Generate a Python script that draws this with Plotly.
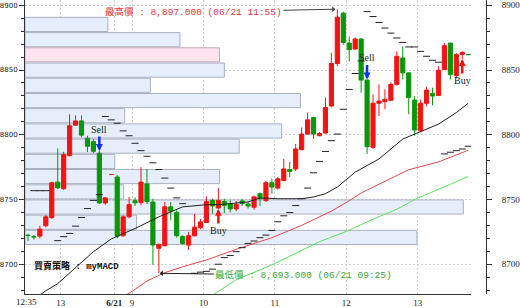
import plotly.graph_objects as go

# ---------------- data (5-minute bars: prev day 12:35-13:45, then 06/21 08:50-13:45) ----------------
opens = [8722.4, 8721.3, 8721.7, 8729.7, 8736.1, 8763.4, 8758.3, 8783.9, 8807.4, 8810.7,
         8797.2, 8794.6, 8785.7, 8747.3, 8769.3, 8767.3, 8722.0, 8736.6, 8749.0, 8747.6,
         8762.0, 8748.0, 8712.3, 8714.3, 8744.3, 8739.9, 8721.3, 8714.8, 8722.0, 8728.1,
         8732.2, 8749.3, 8743.4, 8748.5, 8746.6, 8742.7, 8748.9, 8746.5, 8744.0, 8754.5,
         8749.3, 8762.9, 8758.8, 8764.7, 8773.1, 8773.6, 8788.5, 8800.5, 8813.3, 8799.2,
         8801.3, 8822.2, 8855.0, 8893.9, 8870.8, 8866.2, 8873.9, 8842.2, 8790.3, 8824.3,
         8825.6, 8826.6, 8838.9, 8859.3, 8847.8, 8826.8, 8803.0, 8824.3, 8832.0, 8830.4,
         8850.4, 8870.8, 8845.8, 8862.0, 8862.0]
highs = [8723.5, 8722.6, 8729.7, 8737.8, 8763.7, 8789.5, 8786.9, 8815.8, 8815.0, 8815.0,
         8799.2, 8796.5, 8787.5, 8752.0, 8769.3, 8769.0, 8737.8, 8751.9, 8751.5, 8775.0,
         8773.5, 8750.6, 8716.0, 8748.1, 8748.0, 8741.7, 8722.5, 8725.0, 8739.0, 8735.0,
         8752.4, 8750.6, 8759.0, 8750.5, 8749.3, 8748.8, 8750.5, 8748.0, 8753.0, 8755.5,
         8764.5, 8766.0, 8767.5, 8781.3, 8779.0, 8792.8, 8805.6, 8817.1, 8814.0, 8802.0,
         8828.7, 8863.2, 8897.0, 8895.0, 8875.9, 8875.0, 8874.7, 8842.7, 8831.2, 8838.9,
         8835.0, 8840.5, 8864.4, 8868.2, 8848.0, 8829.9, 8827.3, 8837.1, 8836.3, 8852.9,
         8870.8, 8870.8, 8863.0, 8864.5, 8862.0]
lows = [8718.0, 8719.0, 8719.9, 8728.6, 8735.0, 8758.0, 8757.5, 8783.3, 8807.0, 8798.0,
        8786.7, 8786.0, 8746.5, 8746.0, 8769.3, 8720.0, 8721.3, 8735.5, 8745.0, 8745.5,
        8746.5, 8699.5, 8693.0, 8713.8, 8733.8, 8720.5, 8715.0, 8711.0, 8721.5, 8727.0,
        8731.8, 8738.8, 8742.7, 8739.5, 8740.0, 8741.0, 8745.0, 8743.0, 8742.0, 8745.0,
        8748.0, 8754.5, 8757.5, 8764.0, 8767.3, 8772.0, 8788.0, 8800.0, 8796.7, 8799.0,
        8801.0, 8821.2, 8853.0, 8869.5, 8856.7, 8865.5, 8832.5, 8785.2, 8789.0, 8814.5,
        8819.7, 8826.0, 8838.0, 8842.7, 8815.8, 8799.2, 8802.0, 8822.0, 8822.7, 8830.0,
        8850.0, 8842.7, 8844.0, 8858.5, 8862.0]
closes = [8722.2, 8721.1, 8727.1, 8736.6, 8762.9, 8759.0, 8784.6, 8806.9, 8810.7, 8799.7,
          8791.1, 8787.2, 8747.3, 8751.2, 8769.3, 8721.7, 8736.6, 8746.0, 8747.5, 8763.4,
          8748.5, 8714.8, 8715.3, 8744.3, 8741.0, 8722.0, 8716.1, 8722.0, 8728.6, 8732.7,
          8748.5, 8745.0, 8749.3, 8745.4, 8742.7, 8746.2, 8746.8, 8745.0, 8752.0, 8750.6,
          8762.9, 8759.6, 8766.0, 8773.6, 8771.6, 8789.0, 8800.5, 8811.5, 8800.5, 8801.0,
          8821.0, 8855.0, 8890.8, 8871.3, 8865.7, 8873.9, 8842.2, 8790.8, 8824.3, 8826.0,
          8827.4, 8838.9, 8860.6, 8847.8, 8828.7, 8803.6, 8824.3, 8834.5, 8829.9, 8849.8,
          8868.8, 8846.5, 8861.9, 8863.6, 8861.9]

# parabolic SAR dots (None = not visible)
sar = [None, 8756.8, 8756.8, 8756.8, None, 8718.2, 8721.3, 8723.8, 8729.4, 8736.1,
       8743.0, 8749.3, 8753.7, 8814.1, 8811.5, 8808.9, 8803.0, 8799.2, 8793.4, 8787.7,
       8783.4, 8778.3, 8773.1, 8766.5, 8758.8, 8751.2, 8746.8, None, 8693.0, 8693.9,
       8694.5, 8696.2, 8700.0, 8705.1, 8706.7, 8709.7, 8712.8, 8716.1, 8717.9, 8720.5,
       8722.5, 8726.1, 8732.8, 8737.4, 8739.9, 8745.3, 8750.6, 8758.8, 8770.6, 8779.4,
       8787.1, 8795.4, 8800.5, 8819.7, 8835.0, 8847.3, 8857.0, 8895.1, 8891.3, 8886.7,
       8882.4, 8878.5, 8874.7, 8871.3, 8867.8, 8867.8, 8864.4, 8860.6, 8857.5, 8856.0,
       8785.2, 8786.5, 8787.7, 8789.0, 8791.1]

# moving averages (bar index, value)
ma_black_idx = [1, 3, 5, 8, 11, 14, 18, 22, 26, 30, 32, 37, 39, 42, 46, 48, 50, 52, 54, 55, 59, 61, 63, 65, 69, 72, 74]
ma_black = [8673, 8679.5, 8685, 8697, 8709.7, 8719.5, 8727.6, 8736.6, 8744.3, 8746, 8746, 8748.1, 8751.2, 8750.6,
            8750.6, 8751.9, 8754.5, 8759.6, 8767.3, 8771.1, 8781.3, 8789, 8796.7, 8800.5, 8808.2, 8817.1, 8824.3]
ma_red_idx = [16, 17.5, 20, 23, 26, 30, 35, 41, 46, 51, 54, 56, 64, 69, 74]
ma_red = [8675, 8679, 8687, 8693.5, 8698, 8703.3, 8711.5, 8720.5, 8730, 8741, 8749, 8755, 8773, 8779, 8788]
ma_green_idx = [30, 35, 41, 44, 49, 54, 58, 62, 65, 74]
ma_green = [8673, 8688, 8699.5, 8706, 8717.4, 8726.3, 8734.8, 8742.4, 8750, 8767.7]

# volume-by-price profile
band_prices = [8885.2, 8873.4, 8861.7, 8849.9, 8838.2, 8826.4, 8814.7, 8802.9,
               8791.2, 8779.4, 8767.7, 8755.9, 8744.2, 8732.4, 8720.7]
band_volumes = [84, 157, 197, 202, 127, 279, 101, 260, 217, 91, 197, 100, 444, 113, 397]
band_step = 11.75

sell_idx = [12, 57]
buy_idx = [32, 73]

tick_pos = [5.5, 14.5, 17.5, 29.5, 41.5, 53.5, 65.5]
tick_text = ['13', '<b>6/21</b>', '9', '10', '11', '12', '13']
y_ticks = [8700, 8750, 8800, 8850, 8900]

# bar time labels
bar_times = []
for j in range(len(opens)):
    if j < 15:
        m = 12 * 60 + 35 + 5 * j
        bar_times.append(('06/20', m))
    else:
        m = 8 * 60 + 50 + 5 * (j - 15)
        bar_times.append(('06/21', m))

def tlabel(j):
    d, m = bar_times[j]
    return f"{d} {m // 60:02d}:{m % 60:02d}"

RED = '#f01414'
GREEN = '#0a960a'
n = len(opens)
idx = list(range(n))

fig = go.Figure()

# profile bars (on base axes, under everything else)
cur = closes[-1]
fills = ['#fde3ef' if abs(p - cur) <= band_step / 2 else '#e6eefb' for p in band_prices]
lines = ['#bfa9b8' if abs(p - cur) <= band_step / 2 else '#a9b0c2' for p in band_prices]
fig.add_trace(go.Bar(x=band_volumes, y=band_prices, orientation='h', width=band_step * 0.93,
                     marker=dict(color=fills, line=dict(color=lines, width=1)),
                     xaxis='x', yaxis='y', hoverinfo='skip'))

# moving averages
for xs, ys, col in [(ma_green_idx, ma_green, '#5ee05e'), (ma_red_idx, ma_red, '#e84848'),
                    (ma_black_idx, ma_black, '#222222')]:
    fig.add_trace(go.Scatter(x=xs, y=ys, mode='lines', line=dict(color=col, width=1),
                             xaxis='x2', yaxis='y', hoverinfo='skip'))

# SAR
fig.add_trace(go.Scatter(x=idx, y=sar, mode='markers',
                         marker=dict(symbol='line-ew', size=5, line=dict(width=1, color='#222222')),
                         xaxis='x2', yaxis='y', hoverinfo='skip'))

# candles
up = [i for i in idx if closes[i] >= opens[i]]
dn = [i for i in idx if closes[i] < opens[i]]
for sel, col in [(up, RED), (dn, GREEN)]:
    fig.add_trace(go.Candlestick(
        x=sel, open=[opens[i] for i in sel], high=[highs[i] for i in sel],
        low=[lows[i] for i in sel], close=[closes[i] for i in sel],
        increasing=dict(line=dict(color=col, width=1), fillcolor=col),
        decreasing=dict(line=dict(color=col, width=1), fillcolor=col),
        xaxis='x2', yaxis='y', hoverinfo='skip'))

# dummy trace for right axis
fig.add_trace(go.Scatter(x=[0], y=[8800], mode='markers', marker=dict(opacity=0),
                         xaxis='x2', yaxis='y2', hoverinfo='skip'))

ann = []
# highest / lowest
hi_j = max(idx, key=lambda i: highs[i])
lo_j = min(idx, key=lambda i: lows[i])
ann.append(dict(x=hi_j, y=highs[hi_j], xref='x2', yref='y',
                text=f"最高價 : {highs[hi_j]:,.3f} ({tlabel(hi_j)})",
                font=dict(family='Liberation Mono, Noto Sans CJK TC', size=9.5, color='#e4343c'),
                showarrow=True, ax=-144, ay=3, arrowhead=1, arrowsize=1, arrowwidth=1,
                arrowcolor='#404040', standoff=2))
ann.append(dict(x=lo_j, y=lows[lo_j], xref='x2', yref='y',
                text=f"最低價 : {lows[lo_j]:,.3f} ({tlabel(lo_j)})",
                font=dict(family='Liberation Mono, Noto Sans CJK TC', size=9.5, color='#3aa83a'),
                showarrow=True, ax=145, ay=2, arrowhead=1, arrowsize=1, arrowwidth=1,
                arrowcolor='#202020', standoff=1))
# sell / buy signals
for j in sell_idx:
    ann.append(dict(x=j, y=highs[j], xref='x2', yref='y', text='', showarrow=True,
                    ax=0, ay=-16, arrowhead=2, arrowsize=0.55, arrowwidth=2.5, arrowcolor='#1030e8'))
    ann.append(dict(x=j, y=highs[j], xref='x2', yref='y', text='Sell', showarrow=False,
                    yanchor='bottom', yshift=14, font=dict(family='Liberation Serif', size=10, color='#202020')))
for j in buy_idx:
    ann.append(dict(x=j, y=lows[j], xref='x2', yref='y', text='', showarrow=True,
                    ax=0, ay=16, arrowhead=2, arrowsize=0.55, arrowwidth=2.5, arrowcolor='#f01414'))
    ann.append(dict(x=j, y=lows[j], xref='x2', yref='y', text='Buy', showarrow=False,
                    yanchor='top', yshift=-14, font=dict(family='Liberation Serif', size=10, color='#202020')))
# strategy label
ann.append(dict(x=0.015, y=0.095, xref='paper', yref='paper', xanchor='left', yanchor='middle',
                text='<b>買賣策略 : myMACD</b>', showarrow=False,
                font=dict(family='Liberation Mono, Noto Sans CJK TC', size=9, color='#111111')))
# first time label
ann.append(dict(x=-0.2, y=0, xref='x2', yref='paper', xanchor='center', yanchor='top', yshift=-1,
                text='12:35', showarrow=False,
                font=dict(family='Liberation Serif', size=9, color='#222222')))

yr = [8677.0, 8904.07]
fig.update_layout(
    width=520, height=308, margin=dict(l=21, r=32, t=0, b=12),
    paper_bgcolor='white', plot_bgcolor='white', showlegend=False,
    boxgap=0.3, boxgroupgap=0, boxmode='overlay',
    xaxis=dict(range=[0, 452], domain=[0, 452 / 467], visible=False, fixedrange=True,
               rangeslider=dict(visible=False)),
    xaxis2=dict(overlaying='x', anchor='y', range=[-0.5, 74.5], tickmode='array',
                tickvals=tick_pos, ticktext=tick_text, showgrid=True, gridcolor='#cfcfcf',
                griddash='2px,2px', gridwidth=1, zeroline=False, showline=True,
                linecolor='#333333', linewidth=1, ticks='',
                tickfont=dict(family='Liberation Serif', size=9, color='#222222'),
                rangeslider=dict(visible=False)),
    yaxis=dict(range=yr, tickmode='array', tickvals=y_ticks, showgrid=True, gridcolor='#cfcfcf',
               griddash='2px,2px', zeroline=False, showline=True, linecolor='#333333', linewidth=1,
               ticks='outside', ticklen=5, tickcolor='#333333',
               minor=dict(dtick=10, ticklen=3, ticks='outside', tickcolor='#333333', showgrid=False),
               tickfont=dict(family='DejaVu Sans', size=7, color='#222222')),
    yaxis2=dict(overlaying='y', anchor='free', position=1.0, side='right', range=yr,
                tickmode='array', tickvals=y_ticks, showgrid=False, zeroline=False, showline=True,
                linecolor='#333333', linewidth=1, ticks='outside', ticklen=5, tickcolor='#333333',
                minor=dict(dtick=10, ticklen=3, ticks='outside', tickcolor='#333333', showgrid=False),
                ticklabelstandoff=8,
                tickfont=dict(family='Liberation Serif', size=9, color='#222222')),
    annotations=ann,
)

fig.write_html("out.html")
